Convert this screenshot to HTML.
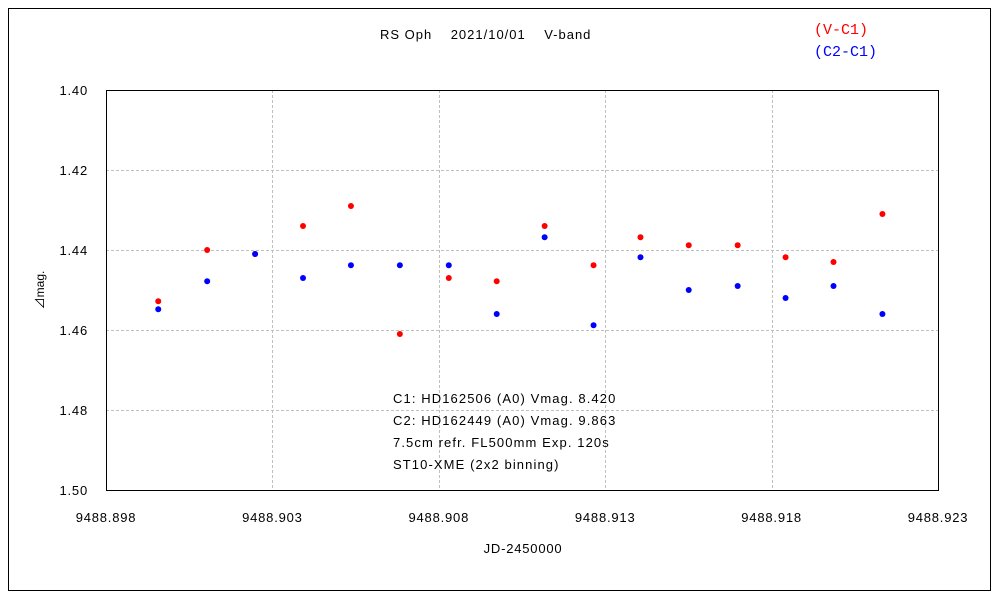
<!DOCTYPE html>
<html><head><meta charset="utf-8"><style>
body{margin:0;background:#fff;}
svg text{font-family:"Liberation Sans","Noto Sans CJK JP",sans-serif;font-size:13px;fill:#000;}
.ann{letter-spacing:1.1px;}
.tick{letter-spacing:0.8px;}
</style></head><body>
<svg id="chart" width="1000" height="600" xmlns="http://www.w3.org/2000/svg">
<rect x="8.5" y="8.5" width="982" height="582" fill="#fff" stroke="#000"/>
<text x="380" y="39" xml:space="preserve" style="white-space:pre;letter-spacing:1px">RS Oph    2021/10/01    V-band</text>
<text x="814" y="34" style="fill:#f00;font-family:'Liberation Mono',monospace;font-size:15px">(V-C1)</text>
<text x="814" y="56" style="fill:#00f;font-family:'Liberation Mono',monospace;font-size:15px">(C2-C1)</text>
<g id="grid"></g>
<rect x="106.5" y="90.5" width="832" height="400" fill="none" stroke="#000"/>
<g id="ticks"></g>
<g id="marks"></g>
<text x="44" y="290" text-anchor="middle" transform="rotate(-90 44 290)" style="font-size:12px">⊿mag.</text>
<text x="523" y="553" text-anchor="middle" class="tick">JD-2450000</text>
<g class="ann">
<text x="393" y="403">C1: HD162506 (A0) Vmag. 8.420</text>
<text x="393" y="425">C2: HD162449 (A0) Vmag. 9.863</text>
<text x="393" y="447">7.5cm refr. FL500mm Exp. 120s</text>
<text x="393" y="469">ST10-XME (2x2 binning)</text>
</g>
</svg>
<script>
const xTicks=[9488.898,9488.903,9488.908,9488.913,9488.918,9488.923];
const yTicks=[1.40,1.42,1.44,1.46,1.48,1.50];
const jd=[9488.89957,9488.90104,9488.90248,9488.90392,9488.90536,9488.90683,9488.90830,9488.90974,9488.91118,9488.91265,9488.91406,9488.91551,9488.91698,9488.91842,9488.91986,9488.92133];
const vc1=[1.4528,1.440,1.441,1.434,1.429,1.461,1.447,1.4478,1.434,1.4438,1.4368,1.4388,1.4388,1.4418,1.443,1.431];
const c2c1=[1.4548,1.4478,1.441,1.447,1.4438,1.4438,1.4438,1.456,1.4368,1.4588,1.4418,1.450,1.449,1.452,1.449,1.456];
const NS="http://www.w3.org/2000/svg";
const X=v=>106+(v-9488.898)/0.025*832;
const Y=v=>90+(v-1.40)/0.10*400;
function mk(t,a,p){const e=document.createElementNS(NS,t);for(const k in a)e.setAttribute(k,a[k]);document.getElementById(p).appendChild(e);return e;}
xTicks.forEach((t,i)=>{const x=Math.round(X(t))+0.5;
 if(i>0&&i<xTicks.length-1){const l=mk('line',{x1:x,x2:x,y1:90,y2:490,stroke:'#c0c0c0','stroke-dasharray':'3,2'},'grid');
 
 }
 const tx=mk('text',{x:X(t),y:522,'text-anchor':'middle','class':'tick'},'ticks');tx.textContent=t.toFixed(3);
 
 });
yTicks.forEach((t,i)=>{const y=Math.round(Y(t))+0.5;
 if(i>0&&i<yTicks.length-1){const l=mk('line',{x1:106,x2:938,y1:y,y2:y,stroke:'#c0c0c0','stroke-dasharray':'3,2'},'grid');
 
 }
 const tx=mk('text',{x:88,y:Y(t)+5,'text-anchor':'end','class':'tick'},'ticks');tx.textContent=t.toFixed(2);
 
 });
jd.forEach((d,i)=>{const c=mk('circle',{cx:X(d),cy:Y(vc1[i]),r:3,fill:'#f00'},'marks');
 
 });
jd.forEach((d,i)=>{const c=mk('circle',{cx:X(d),cy:Y(c2c1[i]),r:3,fill:'#00f'},'marks');
 
 });
</script>
</body></html>
